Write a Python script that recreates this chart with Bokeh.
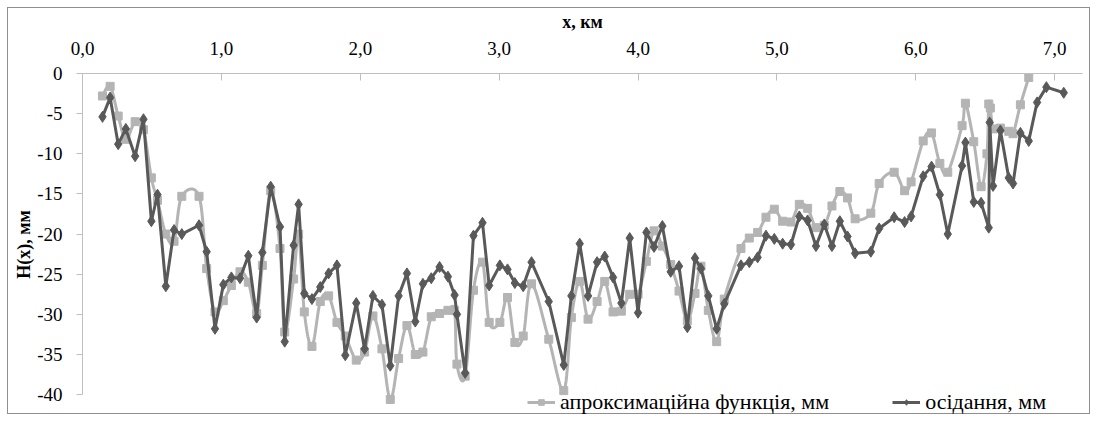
import numpy as np
from bokeh.plotting import figure
from bokeh.models import Range1d, FixedTicker, Legend, LegendItem, Spacer
from bokeh.layouts import column, row
from bokeh.embed import file_html
from bokeh.resources import INLINE

# ---- data -------------------------------------------------------------
settle_x_km = [0.144, 0.199, 0.257, 0.312, 0.379, 0.439, 0.496, 0.540, 0.600, 0.659,
               0.715, 0.839, 0.894, 0.954, 1.014, 1.072, 1.134, 1.194, 1.254, 1.295,
               1.355, 1.422, 1.456, 1.520, 1.556, 1.597, 1.652, 1.712, 1.772, 1.832,
               1.892, 1.971, 2.031, 2.091, 2.156, 2.216, 2.276, 2.336, 2.396, 2.451,
               2.511, 2.571, 2.631, 2.679, 2.696, 2.755, 2.815, 2.880, 2.928, 3.005,
               3.060, 3.113, 3.173, 3.233, 3.357, 3.465, 3.520, 3.580, 3.640, 3.705,
               3.760, 3.820, 3.880, 3.940, 4.000, 4.060, 4.115, 4.175, 4.235, 4.295,
               4.355, 4.410, 4.453, 4.506, 4.566, 4.621, 4.741, 4.801, 4.861, 4.921,
               4.981, 5.041, 5.101, 5.161, 5.221, 5.281, 5.341, 5.396, 5.453, 5.508,
               5.563, 5.676, 5.736, 5.844, 5.919, 5.966, 6.053, 6.113, 6.173, 6.230,
               6.333, 6.357, 6.417, 6.470, 6.525, 6.532, 6.556, 6.609, 6.669, 6.700,
               6.753, 6.813, 6.873, 6.940, 7.065]
settle_mm = [-5.4, -3.0, -8.8, -6.9, -10.3, -5.7, -18.4, -15.1, -26.5, -19.5,
             -20.0, -18.9, -22.2, -31.8, -26.3, -25.4, -25.5, -22.7, -30.4, -22.3,
             -14.1, -19.1, -33.4, -21.4, -16.3, -27.4, -28.1, -26.6, -24.9, -23.9,
             -35.1, -28.6, -34.3, -27.7, -28.8, -36.4, -27.7, -24.9, -30.9, -26.2,
             -25.5, -24.1, -25.3, -27.6, -30.0, -37.3, -20.2, -18.6, -26.4, -23.9,
             -24.4, -26.1, -26.5, -23.5, -28.4, -36.3, -27.7, -21.2, -27.7, -23.5,
             -22.8, -25.4, -28.6, -20.5, -29.8, -19.8, -21.6, -19.0, -24.7, -24.0,
             -31.6, -23.0, -24.3, -27.7, -31.8, -28.7, -23.9, -23.5, -22.9, -20.2,
             -20.6, -21.2, -21.3, -17.8, -18.3, -21.5, -18.8, -21.5, -18.4, -20.3,
             -22.4, -22.2, -19.3, -17.9, -18.5, -17.8, -12.8, -11.6, -15.1, -20.0,
             -11.5, -8.6, -16.0, -16.1, -19.2, -6.1, -14.0, -7.1, -13.0, -13.7,
             -7.4, -8.4, -3.6, -1.7, -2.4]

approx_x_km = [0.144, 0.199, 0.257, 0.312, 0.379, 0.439, 0.496, 0.540, 0.600, 0.659,
               0.715, 0.839, 0.894, 0.954, 1.014, 1.072, 1.134, 1.194, 1.254, 1.295,
               1.355, 1.422, 1.456, 1.520, 1.556, 1.597, 1.652, 1.712, 1.772, 1.832,
               1.892, 1.971, 2.031, 2.091, 2.156, 2.216, 2.276, 2.336, 2.396, 2.451,
               2.511, 2.571, 2.631, 2.679, 2.696, 2.755, 2.815, 2.880, 2.928, 3.005,
               3.060, 3.113, 3.173, 3.233, 3.357, 3.465, 3.520, 3.580, 3.640, 3.705,
               3.760, 3.820, 3.880, 3.940, 4.000, 4.060, 4.115, 4.175, 4.235, 4.295,
               4.355, 4.410, 4.453, 4.506, 4.566, 4.621, 4.741, 4.801, 4.861, 4.921,
               4.981, 5.041, 5.101, 5.161, 5.221, 5.281, 5.341, 5.396, 5.453, 5.508,
               5.563, 5.676, 5.736, 5.844, 5.919, 5.966, 6.053, 6.113, 6.173, 6.230,
               6.333, 6.357, 6.417, 6.470, 6.512, 6.525, 6.537, 6.556, 6.609, 6.669,
               6.700, 6.753, 6.813]
approx_mm = [-2.8, -1.6, -5.3, -8.2, -6.0, -7.0, -13.0, -15.8, -20.0, -20.9,
             -15.3, -15.3, -24.3, -29.7, -28.3, -26.4, -24.7, -26.0, -29.9, -23.9,
             -14.6, -21.8, -32.2, -25.6, -20.0, -29.7, -34.0, -28.4, -27.7, -31.0,
             -32.7, -35.7, -34.7, -30.2, -34.3, -40.6, -35.5, -31.4, -35.0, -34.7,
             -30.3, -29.9, -29.5, -29.5, -36.2, -37.7, -27.0, -23.5, -31.0, -31.0,
             -27.9, -33.5, -32.7, -26.2, -33.1, -39.5, -30.4, -25.9, -30.6, -28.4,
             -25.9, -29.7, -29.6, -27.5, -27.5, -23.4, -19.6, -21.5, -23.8, -27.1,
             -30.8, -27.4, -24.0, -29.5, -33.4, -28.1, -21.8, -20.5, -19.8, -17.9,
             -16.9, -18.4, -18.5, -16.3, -16.8, -19.2, -18.9, -16.5, -14.7, -15.5,
             -18.1, -17.4, -13.7, -12.3, -14.6, -13.5, -8.4, -7.4, -11.2, -12.3,
             -6.5, -3.7, -8.5, -14.1, -10.0, -3.8, -4.3, -6.9, -6.8, -7.2,
             -7.5, -3.9, -0.5]

x_ticks = [0, 1, 2, 3, 4, 5, 6, 7]
x_tick_labels = ["0,0", "1,0", "2,0", "3,0", "4,0", "5,0", "6,0", "7,0"]
y_ticks = [0, -5, -10, -15, -20, -25, -30, -35, -40]
y_tick_labels = ["0", "-5", "-10", "-15", "-20", "-25", "-30", "-35", "-40"]

series_labels = ["апроксимаційна функція, мм", "осідання, мм"]
x_title = "x, км"
y_title = "H(x), мм"


def smooth_curve(xs, ys, steps=16):
    """Excel-like smoothed line (cubic Bezier / Catmull-Rom through the points)."""
    P = np.column_stack([xs, ys]).astype(float)
    n = len(P)
    out = [P[0]]
    t = np.linspace(0, 1, steps + 1)[1:][:, None]
    for i in range(n - 1):
        p0 = P[i - 1] if i > 0 else P[i]
        p1 = P[i]
        p2 = P[i + 1]
        p3 = P[i + 2] if i + 2 < n else P[i + 1]
        c1 = p1 + (p2 - p0) / 6.0
        c2 = p2 - (p3 - p1) / 6.0
        seg = ((1 - t) ** 3) * p1 + 3 * ((1 - t) ** 2) * t * c1 + 3 * (1 - t) * t ** 2 * c2 + t ** 3 * p2
        out.extend(seg)
    out = np.array(out)
    return out[:, 0], out[:, 1]


FONT = "Liberation Serif"
LIGHT = "#b4b4b4"
DARK = "#595959"
AXIS = "#bfbfbf"

p = figure(width=1083, height=407,
           x_range=Range1d(0, 7.2), y_range=Range1d(-42.6, 0),
           x_axis_location="above",
           output_backend="svg", toolbar_location=None,
           min_border_left=74, min_border_right=9,
           min_border_top=63, min_border_bottom=0)
p.styles = {"border": "1px solid #8f8f8f"}
p.outline_line_color = None
p.xgrid.visible = False
p.ygrid.visible = False
p.background_fill_color = "white"
p.border_fill_color = "white"

sx, sy = smooth_curve(approx_x_km, approx_mm)
l_line = p.line(sx, sy, line_color=LIGHT, line_width=3)
l_pts = p.scatter(approx_x_km, approx_mm, marker="square", size=8,
                  fill_color=LIGHT, line_color=LIGHT)
d_line = p.line(settle_x_km, settle_mm, line_color=DARK, line_width=3)
d_pts = p.scatter(settle_x_km, settle_mm, marker="diamond", size=11,
                  fill_color=DARK, line_color=DARK)

xa = p.xaxis[0]
xa.ticker = FixedTicker(ticks=x_ticks)
xa.major_label_overrides = {v: s for v, s in zip(x_ticks, x_tick_labels)}
xa.minor_tick_line_color = None
xa.major_tick_in = 7
xa.major_tick_out = 0
xa.major_label_standoff = 19
xa.axis_line_color = AXIS
xa.major_tick_line_color = AXIS
xa.major_label_text_font = FONT
xa.major_label_text_font_size = "19px"
xa.major_label_text_color = "black"
xa.axis_label = x_title
xa.axis_label_text_font = FONT
xa.axis_label_text_font_style = "bold"
xa.axis_label_text_font_size = "18px"
xa.axis_label_text_color = "black"
xa.axis_label_standoff = 7

ya = p.yaxis[0]
ya.ticker = FixedTicker(ticks=y_ticks)
ya.major_label_overrides = {v: s for v, s in zip(y_ticks, y_tick_labels)}
ya.bounds = (-40, 0)
ya.minor_tick_line_color = None
ya.major_tick_in = 0
ya.major_tick_out = 6
ya.major_label_standoff = 14
ya.axis_line_color = AXIS
ya.major_tick_line_color = AXIS
ya.major_label_text_font = FONT
ya.major_label_text_font_size = "19px"
ya.major_label_text_color = "black"
ya.axis_label = y_title
ya.axis_label_text_font = FONT
ya.axis_label_text_font_style = "bold"
ya.axis_label_text_font_size = "18px"
ya.axis_label_text_color = "black"
ya.axis_label_standoff = 0

legend = Legend(items=[LegendItem(label=series_labels[0], renderers=[l_line, l_pts]),
                       LegendItem(label=series_labels[1], renderers=[d_line, d_pts])],
                location=(445, 0), orientation="horizontal",
                border_line_color=None, background_fill_alpha=0,
                label_text_font=FONT, label_text_font_size="22px",
                label_text_color="black",
                glyph_width=28, glyph_height=14, label_standoff=5,
                spacing=63, padding=0, margin=0)
p.add_layout(legend, "center")

layout = column(Spacer(width=1090, height=7), row(Spacer(width=7, height=409), p))
open("out.html", "w").write(file_html(layout, INLINE))
